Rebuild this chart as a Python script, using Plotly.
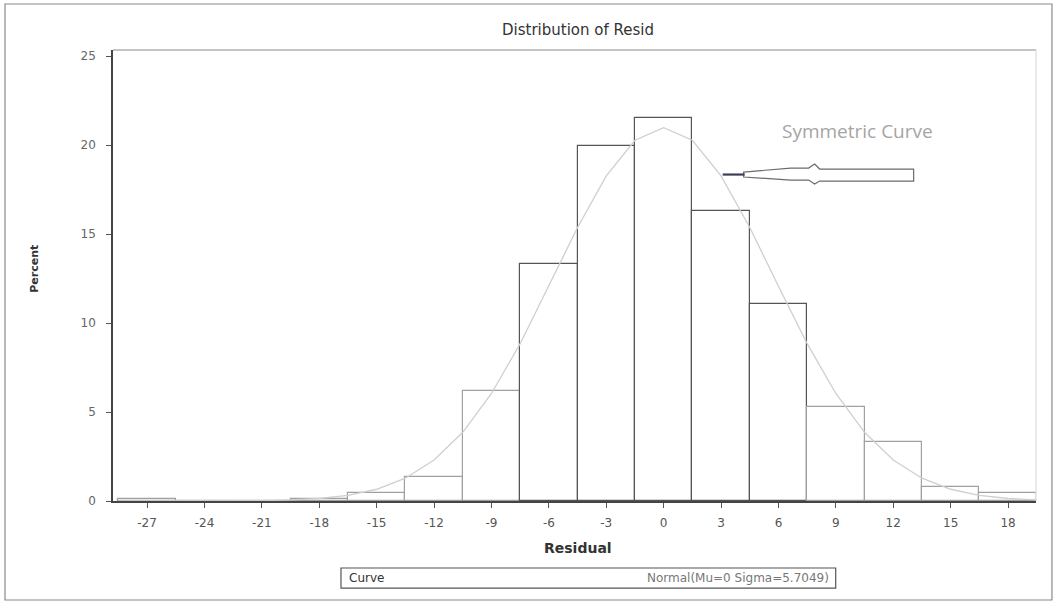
import plotly.graph_objects as go

# ---- data ----
bin_centers = [-27, -24, -21, -18, -15, -12, -9, -6, -3, 0, 3, 6, 9, 12, 15, 18]
bin_percent = [0.1, 0.0, 0.0, 0.1, 0.45, 1.35, 6.2, 13.3, 19.95, 21.5, 16.3, 11.05, 5.3, 3.3, 0.8, 0.45]

curve_x = [-28.5, -27, -25.5, -24, -22.5, -21, -19.5, -18, -16.5, -15, -13.5, -12, -10.5, -9, -7.5,
           -6, -4.5, -3, -1.5, 0, 1.5, 3, 4.5, 6, 7.5, 9, 10.5, 12, 13.5, 15, 16.5, 18, 19.5]
curve_y = [0.0, 0.0, 0.0, 0.0, 0.01, 0.02, 0.06, 0.14, 0.32, 0.66, 1.28, 2.3, 3.86, 6.04, 8.84,
           12.07, 15.37, 18.27, 20.27, 20.98, 20.27, 18.27, 15.37, 12.07, 8.84, 6.04, 3.86, 2.3, 1.28, 0.66, 0.32, 0.14, 0.06]

x_ticks = [-27, -24, -21, -18, -15, -12, -9, -6, -3, 0, 3, 6, 9, 12, 15, 18]
y_ticks = [0, 5, 10, 15, 20, 25]

title_text = "Distribution of Resid"
x_title = "Residual"
y_title = "Percent"
legend_label = "Curve"
legend_value = "Normal(Mu=0 Sigma=5.7049)"
note_text = "Symmetric Curve"

# ---- styles ----
dark_bins = {-6, -3, 0, 3, 6}
line_colors = ["#555555" if c in dark_bins else "#a0a0a0" for c in bin_centers]

FONT = "DejaVu Sans, Verdana, sans-serif"

fig = go.Figure()
fig.add_trace(go.Bar(
    x=bin_centers, y=bin_percent, width=3,
    marker=dict(color="white", line=dict(color=line_colors, width=1.2)),
    showlegend=False, hoverinfo="x+y",
))
fig.add_trace(go.Scatter(
    x=curve_x, y=curve_y, mode="lines",
    line=dict(color="#cfcfcf", width=1.3),
    showlegend=False,
))

# hollow arrow pointing to the curve (data coordinates)
def px2x(px):
    return (px - 663.0) / 19.134

def py2y(py):
    return (501.0 - py) / 17.8

pts = [(743, 172), (790, 168), (808, 168), (814, 164), (819, 169), (913, 169),
       (913, 181), (819, 181), (814, 184), (808, 180), (790, 180), (743, 177)]
path = "M " + " L ".join(f"{px2x(a):.3f},{py2y(b):.3f}" for a, b in pts) + " Z"
fig.add_shape(type="path", path=path, xref="x", yref="y",
              line=dict(color="#6b6b6b", width=1.2), fillcolor="rgba(255,255,255,0)")
fig.add_shape(type="line", xref="x", yref="y",
              x0=px2x(722), y0=py2y(174.5), x1=px2x(744), y1=py2y(174.5),
              line=dict(color="#3a3f55", width=2.2))

# outer frame and legend box (paper coordinates)
fig.add_shape(type="rect", xref="paper", yref="paper",
              x0=-0.117, x1=1.0173, y0=-0.2195, y1=1.102,
              line=dict(color="#8a8a8a", width=1.2))
fig.add_shape(type="rect", xref="paper", yref="paper",
              x0=0.247, x1=0.783, y0=-0.193, y1=-0.1486,
              line=dict(color="#555555", width=1.2))
# plot area top and right borders
fig.add_shape(type="line", xref="paper", yref="paper", x0=0, x1=1, y0=1, y1=1,
              line=dict(color="#8a8a8a", width=1))
fig.add_shape(type="line", xref="paper", yref="paper", x0=1, x1=1, y0=0, y1=1,
              line=dict(color="#d5d5d5", width=1))

annotations = [
    dict(text=title_text, x=0.504, y=1.0443, xref="paper", yref="paper",
         xanchor="center", yanchor="middle",
         showarrow=False, font=dict(family=FONT, size=15, color="#333333")),
    dict(text=f"<b>{x_title}</b>", x=0.504, y=-0.104, xref="paper", yref="paper",
         xanchor="center", yanchor="middle",
         showarrow=False, font=dict(family=FONT, size=14, color="#333333")),
    dict(text=f"<b>{y_title}</b>", x=-0.0845, y=0.515, xref="paper", yref="paper",
         xanchor="center", yanchor="middle",
         showarrow=False, textangle=-90, font=dict(family=FONT, size=11, color="#333333")),
    dict(text=legend_label, x=0.253, y=-0.171, xref="paper", yref="paper",
         xanchor="left", yanchor="middle",
         showarrow=False, font=dict(family=FONT, size=12, color="#333333")),
    dict(text=legend_value, x=0.778, y=-0.171, xref="paper", yref="paper",
         xanchor="right", yanchor="middle",
         showarrow=False, font=dict(family=FONT, size=12, color="#777777")),
    dict(text=note_text, x=px2x(857), y=py2y(131), xref="x", yref="y",
         xanchor="center", yanchor="middle",
         showarrow=False, font=dict(family="Open Sans, sans-serif", size=19, color="#a5a5a5")),
]

fig.update_layout(
    width=1058, height=604,
    margin=dict(l=113, r=22, t=50, b=103),
    paper_bgcolor="white", plot_bgcolor="white",
    annotations=annotations,
    bargap=0,
    xaxis=dict(range=[-28.78, 19.46], tickvals=x_ticks, ticktext=[str(v) for v in x_ticks],
               showgrid=False, zeroline=False, showline=True, linecolor="#444444", linewidth=1.5,
               ticks="outside", ticklen=5, tickcolor="#555555", ticklabelstandoff=5,
               tickfont=dict(family=FONT, size=12, color="#555555")),
    yaxis=dict(range=[0, 25.34], tickvals=y_ticks,
               showgrid=False, zeroline=False, showline=True, linecolor="#444444", linewidth=1.5,
               ticks="outside", ticklen=5, tickcolor="#555555", ticklabelstandoff=8,
               tickfont=dict(family=FONT, size=12, color="#666666")),
)

fig.write_html("out.html")
